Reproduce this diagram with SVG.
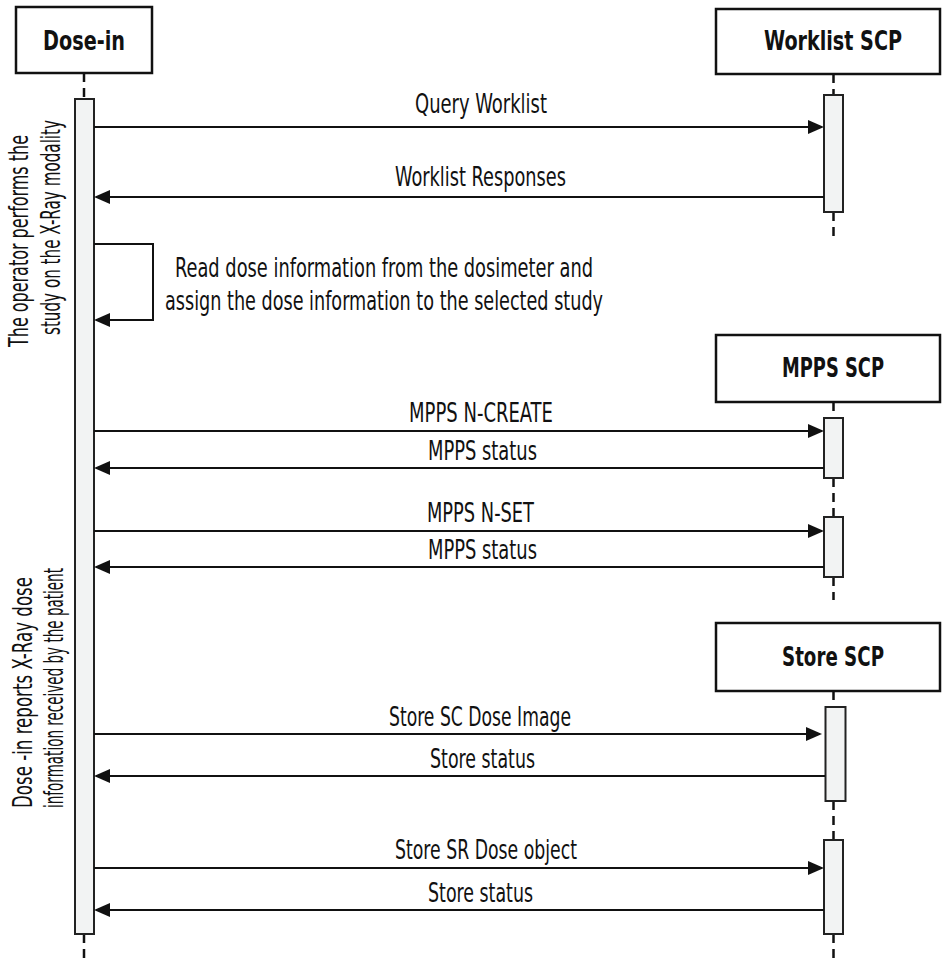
<svg xmlns="http://www.w3.org/2000/svg" width="942" height="961" viewBox="0 0 942 961">
<style>
.box{fill:#fff;stroke:#111;stroke-width:2.5}
.act{fill:#f2f3f3;stroke:#222;stroke-width:2}
.life{stroke:#111;stroke-width:2.5;stroke-dasharray:9 6;fill:none}
.msg{stroke:#111;stroke-width:2;fill:none}
.hd{font-family:"Liberation Sans Narrow","DejaVu Sans Condensed","Liberation Sans",sans-serif;font-weight:bold;font-size:26px;fill:#111;text-anchor:middle}
.lb{font-family:"Liberation Sans Narrow","DejaVu Sans Condensed","Liberation Sans",sans-serif;font-size:27px;fill:#111;text-anchor:middle}
.sd{font-family:"Liberation Sans Narrow","DejaVu Sans Condensed","Liberation Sans",sans-serif;font-size:26px;fill:#111;text-anchor:start}
</style>
<defs>
<marker id="ah" viewBox="0 0 16 14" refX="14" refY="7" markerWidth="16" markerHeight="14" markerUnits="userSpaceOnUse" orient="auto">
<path d="M0,0 L16,7 L0,14 Z" fill="#111"/>
</marker>
</defs>
<rect width="942" height="961" fill="#fff"/>

<g id="lifelines">
<line class="life" x1="84" y1="73" x2="84" y2="99"/>
<line class="life" x1="84" y1="934" x2="84" y2="961"/>
<line class="life" x1="833.5" y1="74" x2="833.5" y2="95"/>
<line class="life" x1="833.5" y1="212" x2="833.5" y2="240"/>
<line class="life" x1="833.5" y1="402" x2="833.5" y2="418"/>
<line class="life" x1="833.5" y1="478" x2="833.5" y2="517"/>
<line class="life" x1="833.5" y1="577" x2="833.5" y2="600"/>
<line class="life" x1="833.5" y1="691" x2="833.5" y2="707"/>
<line class="life" x1="833.5" y1="801" x2="833.5" y2="840"/>
<line class="life" x1="833.5" y1="934" x2="833.5" y2="961"/>
</g>

<g id="dose-in">
<rect class="box" x="16" y="7" width="136" height="66"/>
<text class="hd" x="84" y="50" textLength="82" lengthAdjust="spacingAndGlyphs">Dose-in</text>
<rect class="act" x="75" y="99" width="19" height="835"/>
</g>

<g id="worklist-scp">
<rect class="box" x="716" y="9" width="224" height="65"/>
<text class="hd" x="833" y="50" textLength="138" lengthAdjust="spacingAndGlyphs">Worklist SCP</text>
<rect class="act" x="824" y="95" width="19" height="117"/>
</g>

<g id="mpps-scp">
<rect class="box" x="716" y="335" width="224" height="67"/>
<text class="hd" x="833" y="377" textLength="102" lengthAdjust="spacingAndGlyphs">MPPS SCP</text>
<rect class="act" x="824" y="418" width="19" height="60"/>
<rect class="act" x="824" y="517" width="19" height="60"/>
</g>

<g id="store-scp">
<rect class="box" x="716" y="623" width="224" height="68"/>
<text class="hd" x="833" y="666" textLength="102" lengthAdjust="spacingAndGlyphs">Store SCP</text>
<rect class="act" x="825.5" y="707" width="20" height="94"/>
<rect class="act" x="824" y="840" width="19" height="94"/>
</g>

<g id="connectors">
<path class="msg" d="M94,127 H822" marker-end="url(#ah)"/>
<path class="msg" d="M824,197 H96" marker-end="url(#ah)"/>
<path class="msg" d="M94,244 H153 V320 H96" marker-end="url(#ah)"/>
<path class="msg" d="M94,431 H822" marker-end="url(#ah)"/>
<path class="msg" d="M824,468 H96" marker-end="url(#ah)"/>
<path class="msg" d="M94,531 H822" marker-end="url(#ah)"/>
<path class="msg" d="M824,567 H96" marker-end="url(#ah)"/>
<path class="msg" d="M94,734 H820" marker-end="url(#ah)"/>
<path class="msg" d="M825,776 H96" marker-end="url(#ah)"/>
<path class="msg" d="M94,868 H822" marker-end="url(#ah)"/>
<path class="msg" d="M824,910 H96" marker-end="url(#ah)"/>
</g>

<g id="labels">
<text class="lb" x="481" y="113" textLength="132" lengthAdjust="spacingAndGlyphs">Query Worklist</text>
<text class="lb" x="480.5" y="186" textLength="171" lengthAdjust="spacingAndGlyphs">Worklist Responses</text>
<text class="lb" x="384" y="277" textLength="418" lengthAdjust="spacingAndGlyphs">Read dose information from the dosimeter and</text>
<text class="lb" x="384" y="310" textLength="438" lengthAdjust="spacingAndGlyphs">assign the dose information to the selected study</text>
<text class="lb" x="481" y="422" textLength="144" lengthAdjust="spacingAndGlyphs">MPPS N-CREATE</text>
<text class="lb" x="482.5" y="460" textLength="109" lengthAdjust="spacingAndGlyphs">MPPS status</text>
<text class="lb" x="480.5" y="522" textLength="107" lengthAdjust="spacingAndGlyphs">MPPS N-SET</text>
<text class="lb" x="482.5" y="559" textLength="109" lengthAdjust="spacingAndGlyphs">MPPS status</text>
<text class="lb" x="480" y="726" textLength="182" lengthAdjust="spacingAndGlyphs">Store SC Dose Image</text>
<text class="lb" x="482.5" y="768" textLength="105" lengthAdjust="spacingAndGlyphs">Store status</text>
<text class="lb" x="486" y="859" textLength="182" lengthAdjust="spacingAndGlyphs">Store SR Dose object</text>
<text class="lb" x="480.5" y="902" textLength="105" lengthAdjust="spacingAndGlyphs">Store status</text>
</g>

<g id="side-notes">
<text class="sd" transform="translate(28,347) rotate(-90)" textLength="212" lengthAdjust="spacingAndGlyphs">The operator performs the</text>
<text class="sd" transform="translate(60,335) rotate(-90)" textLength="215" lengthAdjust="spacingAndGlyphs">study on the X-Ray modality</text>
<text class="sd" transform="translate(32,808) rotate(-90)" textLength="231" lengthAdjust="spacingAndGlyphs">Dose -in reports X-Ray dose</text>
<text class="sd" transform="translate(63,808) rotate(-90)" textLength="240" lengthAdjust="spacingAndGlyphs">information received by the patient</text>
</g>
</svg>
